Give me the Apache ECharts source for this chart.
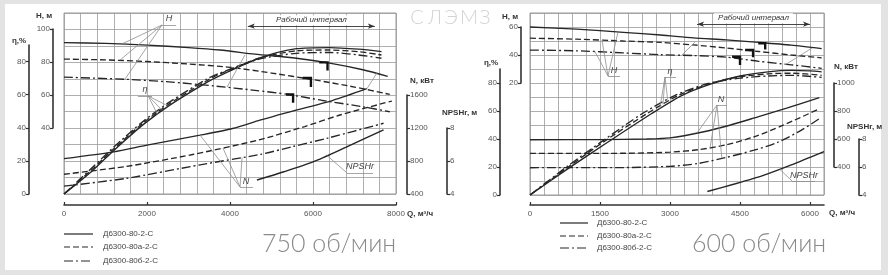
<!DOCTYPE html>
<html><head><meta charset="utf-8">
<script src="https://cdn.jsdelivr.net/npm/echarts@6/dist/echarts.min.js"></script>
<style>
html,body{margin:0;padding:0;width:888px;height:275px;overflow:hidden;background:#e3e3e3;}
#card{position:absolute;left:5px;top:4px;width:876px;height:266px;background:#fff;}
#c{position:absolute;left:0;top:0;width:888px;height:275px;}
</style></head>
<body><div id="card"></div><div id="c"></div>
<script>
// ================= DATA =================
const LEGEND_NAMES = ['Д6300-80-2-С', 'Д6300-80а-2-С', 'Д6300-80б-2-С'];
const TITLE_LEFT = '750 об/мин';
const TITLE_RIGHT = '600 об/мин';
const BRAND = ['С', 'Л', 'Э', 'М', 'З'];
const WORK_LABEL = 'Рабочий интервал';

// ---- 750 об/мин (left) : [Q m3/h, value] ----
const L_H_80  = [[0,92],[1000,91.5],[2000,90.5],[3000,89],[3760,87.5],[4600,85],[5600,82.5],[6400,79.5],[7200,75.5],[7800,71.5]];
const L_H_80a = [[0,82],[1000,81.5],[2000,80.5],[3000,79],[4000,77],[5000,73.5],[6000,69.5],[7000,65],[7850,60.5]];
const L_H_80b = [[0,71],[1500,69.7],[2600,68],[3600,65.7],[4600,63],[5400,60.5],[6200,57],[7200,53],[7850,50]];
const L_E_80  = [[0,0],[700,14.5],[1200,26.5],[1900,42],[2550,54],[3450,68],[3760,72],[4700,82.5],[5600,88.3],[6400,89],[7100,88],[7650,86.5]];
const L_E_80a = [[0,0],[700,15.5],[1200,27.5],[1900,43],[2550,55],[3450,69],[3760,73],[4700,82.5],[5600,87],[6400,87.5],[7100,86.5],[7650,84.5]];
const L_E_80b = [[0,0],[700,16.5],[1200,28.5],[1900,44],[2550,56],[3450,70],[3760,73.5],[4700,82],[5600,85.5],[6400,86],[7100,84.5],[7650,82.5]];
const L_N_80  = [[0,830],[1200,913],[2000,994],[3280,1115],[4060,1196],[4720,1297],[5280,1378],[6480,1539],[7300,1680]];
const L_N_80a = [[0,640],[1500,735],[3100,880],[4720,1060],[5800,1220],[6650,1360],[7900,1530]];
const L_N_80b = [[0,495],[1500,590],[3280,755],[4720,880],[5500,975],[6360,1080],[7700,1260]];
const L_NPSH  = [[4650,4.85],[5300,5.35],[6000,5.95],[6800,6.85],[7700,7.9]];
const L_OP = [[[6150,80],[6350,80],[6350,75]], [[5750,70.5],[5950,70.5],[5950,65]], [[5350,60.5],[5520,60.5],[5520,55.5]]];
const L_WORK = [4430, 7490, 102];

// ---- 600 об/мин (right) ----
const R_H_80  = [[0,60],[1000,58.5],[2000,56.2],[2800,54.3],[3500,52.2],[4200,50.8],[4900,49],[5600,47],[6250,44.5]];
const R_H_80a = [[0,52],[1000,51.3],[2000,50],[2800,49],[3500,47.2],[4200,45],[4900,42.5],[5600,40],[6250,38]];
const R_H_80b = [[0,43.5],[1000,43],[2000,41.5],[2800,40.2],[3500,39.6],[4200,38.5],[4900,35.5],[5600,33],[6250,30.5]];
const R_E_80  = [[0,0],[800,18.5],[1680,38],[2600,58],[3250,71],[3900,79.5],[4500,85],[5100,88],[5600,89],[6000,88.7],[6250,88]];
const R_E_80a = [[0,0],[800,19.5],[1600,38.5],[2500,58],[3200,71.5],[3900,80],[4500,84.5],[5100,86.5],[5600,87],[6250,85.5]];
const R_E_80b = [[0,0],[800,20.5],[1550,38.5],[2400,58],[3100,71],[3800,79.5],[4500,83.5],[5100,85],[5600,85.5],[6250,84]];
const R_N_80  = [[0,595],[1500,596],[2500,600],[3000,608],[3700,650],[4300,700],[4900,760],[5500,820],[6200,895]];
const R_N_80a = [[0,497],[2000,498],[3000,506],[3600,523],[4200,558],[4800,615],[5400,695],[6200,815]];
const R_N_80b = [[0,395],[2000,396],[3000,405],[3600,425],[4200,468],[4800,520],[5300,575],[5800,660],[6200,745]];
const R_NPSH  = [[3800,4.25],[4400,4.8],[5000,5.4],[5600,6.15],[6300,7.1]];
const R_OP = [[[4890,48.4],[5040,48.4],[5040,44]], [[4610,43.6],[4780,43.6],[4780,38.4]], [[4330,38.8],[4500,38.8],[4500,32.9]]];
const R_WORK = [3580, 6000, 122];

// leader lines of curve labels (in main-grid units)
const L_LEADERS = [
  [[2362,102.7],[2700,102.7]], [[2362,102.7],[1422,91.5]], [[2362,102.7],[1350,81.4]], [[2362,102.7],[1470,69.8]],
  [[1783,59.6],[2121,59.6]], [[2030,59.6],[2250,48.5]], [[2030,59.6],[2350,51.3]], [[2030,59.6],[2450,54.2]],
  [[4242,4.26],[4555,4.26]], [[4242,4.26],[3280,35.75]], [[4242,4.26],[3830,28]], [[4242,4.26],[4290,22.2]],
  [[6820,12.8],[7447,12.8]], [[6820,12.8],[6340,23.3]],
  [[3930,65],[4360,84.5]], [[7300,64],[7540,73.5]]
];
const R_LEADERS = [
  [[1671,85],[1929,85]], [[1671,85],[1543,110.6]], [[1671,85],[1393,102.4]], [[1671,85],[1886,116.5]],
  [[2893,84.3],[3129,84.3]], [[2893,84.3],[2780,61.6]], [[2893,84.3],[2850,64.75]], [[2893,84.3],[2950,68.2]],
  [[4007,64.3],[4222,64.3]], [[4007,64.3],[3580,44.3]], [[4007,64.3],[3860,33.8]], [[4007,64.3],[4110,26.2]],
  [[5615,10],[6108,10]], [[5615,10],[5350,18.4]],
  [[3257,100],[3536,109.3]], [[5465,92.9],[6043,105]]
];

// ================= BUILD =================
const FONT = 'Liberation Sans';
const INK = '#262626';
const GRIDC = '#9a9a9a';
const DASH = { s: 'solid', d: [6, 3], dd: [9, 3, 2, 3] };
const PLAIN = v => String(v);
const option = { animation: false, grid: [], xAxis: [], yAxis: [], series: [], graphic: [] };

function mainGrid(left, top, width, height, qmax, qstep, vmax) {
  const gi = option.grid.length;
  option.grid.push({ left, top, width, height, show: true, borderColor: GRIDC, borderWidth: 1 });
  const xi = option.xAxis.length;
  option.xAxis.push({ gridIndex: gi, type: 'value', min: 0, max: qmax, interval: qstep,
    axisLine: { show: false }, axisTick: { show: false }, axisLabel: { show: false },
    splitLine: { show: true, lineStyle: { color: GRIDC, width: 0.8 } } });
  const yi = option.yAxis.length;
  option.yAxis.push({ gridIndex: gi, type: 'value', min: 0, max: vmax, interval: 10,
    axisLine: { show: false }, axisTick: { show: false }, axisLabel: { show: false },
    splitLine: { show: true, lineStyle: { color: GRIDC, width: 0.8 } } });
  return { gi, xi, yi };
}
function hiddenY(gi, min, max) {
  option.yAxis.push({ gridIndex: gi, type: 'value', min, max, show: false, splitLine: { show: false } });
  return option.yAxis.length - 1;
}
function axisGrid(x, top, bottom, min, max, interval, side, showMax) {
  const gi = option.grid.length;
  option.grid.push({ left: side === 'left' ? x : x - 1, top, height: bottom - top, width: 1 });
  option.xAxis.push({ gridIndex: gi, type: 'value', show: false, min: 0, max: 1 });
  option.yAxis.push({ gridIndex: gi, type: 'value', position: side, min, max, interval,
    axisLine: { show: true, onZero: false, lineStyle: { color: '#333', width: 1.6 } },
    axisTick: { show: true, length: 3, lineStyle: { color: '#333', width: 1.2 } },
    axisLabel: { show: true, fontSize: 8, color: '#555', margin: 3, fontFamily: FONT, formatter: PLAIN, showMaxLabel: showMax !== false },
    splitLine: { show: false } });
}
function qAxis(left, width, y, qmax, step) {
  const gi = option.grid.length;
  option.grid.push({ left, width, top: y - 1, height: 1 });
  option.xAxis.push({ gridIndex: gi, type: 'value', position: 'bottom', min: 0, max: qmax, interval: step,
    axisLine: { show: true, onZero: false, lineStyle: { color: '#333', width: 1.6 } },
    axisTick: { show: true, inside: true, length: 3, lineStyle: { color: '#333', width: 1.2 } },
    axisLabel: { fontSize: 8, color: '#555', margin: 5, fontFamily: FONT, formatter: PLAIN, showMaxLabel: qmax % step === 0 },
    splitLine: { show: false } });
  option.yAxis.push({ gridIndex: gi, type: 'value', show: false });
}
function curve(data, xi, yi, dash, w) {
  option.series.push({ type: 'line', data, xAxisIndex: xi, yAxisIndex: yi, symbol: 'none', showSymbol: false,
    smooth: 0.25, silent: true, z: 3,
    lineStyle: { color: INK, width: w || 1.35, type: dash } });
}
function bracket(pts, xi, yi) {
  option.series.push({ type: 'line', data: pts, xAxisIndex: xi, yAxisIndex: yi, symbol: 'none', smooth: false,
    silent: true, z: 4, lineStyle: { color: '#111', width: 2.4, cap: 'butt', join: 'miter' } });
}
function leaders(segs, xi, yi) {
  option.series.push({ type: 'line', data: [], xAxisIndex: xi, yAxisIndex: yi, silent: true, z: 2,
    markLine: { silent: true, symbol: ['none', 'none'], animation: false,
      lineStyle: { color: '#8e8e8e', width: 0.8, type: 'solid' }, label: { show: false },
      emphasis: { disabled: true },
      data: segs.map(s => [{ coord: s[0] }, { coord: s[1] }]) } });
}
function work(w, xi, yi) {
  option.series.push({ type: 'line', data: [], xAxisIndex: xi, yAxisIndex: yi, silent: true, z: 5,
    markLine: { silent: true, symbol: ['arrow', 'arrow'], symbolSize: [4, 7], animation: false,
      lineStyle: { color: '#333', width: 0.9, type: 'solid' }, emphasis: { disabled: true },
      label: { show: true, position: 'insideMiddleTop', distance: 1, formatter: WORK_LABEL, fontSize: 8,
        fontStyle: 'italic', color: '#333', fontFamily: FONT, backgroundColor: '#fff', padding: [1, 4] },
      data: [[{ coord: [w[0], w[2]] }, { coord: [w[1], w[2]] }]] } });
}
function text(str, x, y, opt) {
  opt = opt || {};
  option.graphic.push({ type: 'text', silent: true, z: 10, style: {
    text: str, x, y, fill: opt.fill || '#333',
    font: opt.font || ('bold 8px ' + FONT),
    textAlign: opt.align || 'left', align: opt.align || 'left',
    textVerticalAlign: 'middle', verticalAlign: 'middle' } });
}
function legendLine(x1, x2, y, dash) {
  option.graphic.push({ type: 'line', silent: true, z: 10,
    shape: { x1, y1: y, x2, y2: y },
    style: { stroke: INK, lineWidth: 1.2, lineDash: dash === 'solid' ? null : dash } });
}

// ---------- LEFT CHART ----------
const L = mainGrid(64, 13, 332, 181, 8000, 400, 110);
const L_yN = hiddenY(L.gi, 400, 2600);
const L_yP = hiddenY(L.gi, 4, 15);
curve(L_H_80, L.xi, L.yi, DASH.s); curve(L_H_80a, L.xi, L.yi, DASH.d); curve(L_H_80b, L.xi, L.yi, DASH.dd);
curve(L_E_80, L.xi, L.yi, DASH.s); curve(L_E_80a, L.xi, L.yi, DASH.d); curve(L_E_80b, L.xi, L.yi, DASH.dd);
curve(L_N_80, L.xi, L_yN, DASH.s); curve(L_N_80a, L.xi, L_yN, DASH.d); curve(L_N_80b, L.xi, L_yN, DASH.dd);
curve(L_NPSH, L.xi, L_yP, DASH.s, 1.5);
L_OP.forEach(p => bracket(p, L.xi, L.yi));
leaders(L_LEADERS, L.xi, L.yi);
work(L_WORK, L.xi, L.yi);

// ---------- RIGHT CHART ----------
const R = mainGrid(530, 13, 294, 182, 6300, 300, 130);
const R_yH = hiddenY(R.gi, -60, 70);
const R_yN = hiddenY(R.gi, 200, 1500);
const R_yP = hiddenY(R.gi, 4, 17);
curve(R_H_80, R.xi, R_yH, DASH.s); curve(R_H_80a, R.xi, R_yH, DASH.d); curve(R_H_80b, R.xi, R_yH, DASH.dd);
curve(R_E_80, R.xi, R.yi, DASH.s); curve(R_E_80a, R.xi, R.yi, DASH.d); curve(R_E_80b, R.xi, R.yi, DASH.dd);
curve(R_N_80, R.xi, R_yN, DASH.s); curve(R_N_80a, R.xi, R_yN, DASH.d); curve(R_N_80b, R.xi, R_yN, DASH.dd);
curve(R_NPSH, R.xi, R_yP, DASH.s, 1.5);
R_OP.forEach(p => bracket(p, R.xi, R_yH));
leaders(R_LEADERS, R.xi, R.yi);
work(R_WORK, R.xi, R.yi);

// ---------- visible scales ----------
axisGrid(29, 45, 194, 0, 90, 20, 'left', false);      // eta left
axisGrid(53, 29, 128, 40, 100, 20, 'left');           // H left
axisGrid(407, 95, 194, 400, 1600, 400, 'right');      // N left
axisGrid(447, 128, 194, 4, 8, 2, 'right');            // NPSHr left
qAxis(64, 332, 205, 8000, 2000);

axisGrid(500, 69, 195, 0, 90, 20, 'left', false);     // eta right
axisGrid(521, 27, 83, 20, 60, 20, 'left');            // H right
axisGrid(834, 83, 167, 400, 1000, 200, 'right');      // N right
axisGrid(859, 139, 195, 4, 8, 2, 'right');            // NPSHr right
qAxis(530, 294, 205, 6300, 1500);

// ---------- texts ----------
text('H, м', 44, 16, { align: 'center' });
text('η,%', 19, 41, { align: 'center' });
text('N, кВт', 410, 81);
text('NPSHr, м', 442, 113);
text('Q, м³/ч', 407, 214);
text('H, м', 510, 17, { align: 'center' });
text('η,%', 491, 63, { align: 'center' });
text('N, кВт', 834, 67);
text('NPSHr, м', 847, 127);
text('Q, м³/ч', 829, 213);

const IT = 'italic 9px ' + FONT;
text('H', 169, 18, { font: IT, align: 'center', fill: '#444' });
text('η', 145, 89, { font: IT, align: 'center', fill: '#444' });
text('N', 246, 181, { font: IT, align: 'center', fill: '#444' });
text('NPSHr', 360, 166, { font: IT, align: 'center', fill: '#444' });
text('H', 614, 70, { font: IT, align: 'center', fill: '#444' });
text('η', 670, 71, { font: IT, align: 'center', fill: '#444' });
text('N', 721, 99, { font: IT, align: 'center', fill: '#444' });
text('NPSHr', 804, 175, { font: IT, align: 'center', fill: '#444' });

// legends
const LEG_STY = [DASH.s, DASH.d, DASH.dd];
[234, 247, 261].forEach((y, i) => { legendLine(64, 93, y, LEG_STY[i]); text(LEGEND_NAMES[i], 103, y, { font: '8px ' + FONT, fill: '#444' }); });
[223, 236, 248].forEach((y, i) => { legendLine(560, 588, y, LEG_STY[i]); text(LEGEND_NAMES[i], 597, y, { font: '8px ' + FONT, fill: '#444' }); });

// big titles
text(TITLE_LEFT, 262, 244, { font: '300 25px Lato', fill: '#8a8a8a' });
text(TITLE_RIGHT, 692, 244, { font: '300 25px Lato', fill: '#8a8a8a' });
const BX = [417, 435, 451, 469, 485];
BRAND.forEach((ch, i) => text(ch, BX[i], 18, { font: '300 20px Lato', fill: '#d3d3d3', align: 'center' }));

const chart = echarts.init(document.getElementById('c'), null, { renderer: 'canvas', width: 888, height: 275 });
chart.setOption(option);
</script>
</body></html>
